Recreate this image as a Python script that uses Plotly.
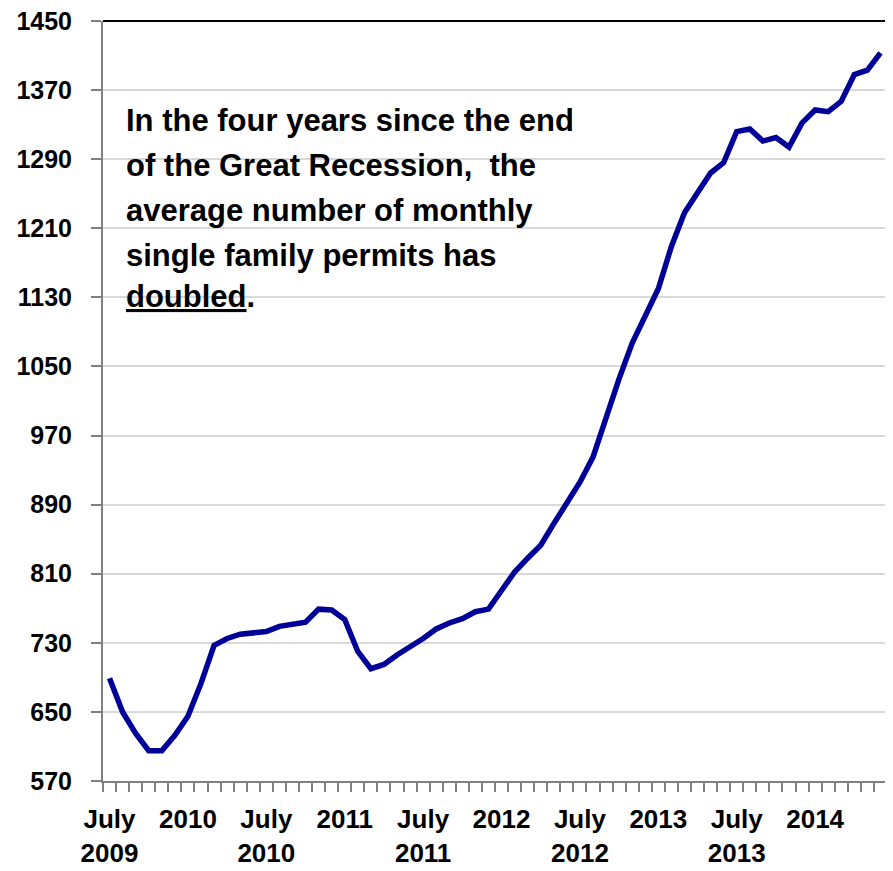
import plotly.graph_objects as go
import pandas as pd

months = [d.strftime("%b %Y") for d in pd.date_range("2009-07-01", periods=60, freq="MS")]

permits = [689, 650, 625, 605, 605, 623, 645, 683, 727, 735,
           740, 742, 743, 749, 751, 754, 769, 768, 757, 720,
           700, 705, 716, 725, 735, 746, 753, 758, 766, 769,
           790, 812, 828, 843, 868, 893, 916, 945, 992, 1036,
           1077, 1110, 1140, 1189, 1228, 1251, 1274, 1286, 1322, 1325,
           1311, 1315, 1304, 1332, 1347, 1345, 1357, 1388, 1393, 1413]

label_months = ["Jul 2009", "Jan 2010", "Jul 2010", "Jan 2011", "Jul 2011",
                "Jan 2012", "Jul 2012", "Jan 2013", "Jul 2013", "Jan 2014"]
label_texts = ["July<br>2009", "2010", "July<br>2010", "2011", "July<br>2011",
               "2012", "July<br>2012", "2013", "July<br>2013", "2014"]

y_ticks = [570, 650, 730, 810, 890, 970, 1050, 1130, 1210, 1290, 1370, 1450]

note_lines = ["In the four years since the end",
              "of the Great Recession,  the",
              "average number of monthly",
              "single family permits has",
              "<span style='text-decoration:underline'>doubled</span>."]
note_y = [0.869, 0.810, 0.751, 0.692, 0.637]

FONT = "Liberation Sans, Arial, sans-serif"

fig = go.Figure()
fig.add_trace(go.Scatter(x=months, y=permits, mode="lines",
                         line=dict(color="#000099", width=5.5),
                         hoverinfo="skip", showlegend=False))
fig.add_trace(go.Scatter(x=months, y=permits, mode="lines", xaxis="x2",
                         line=dict(color="rgba(0,0,0,0)", width=0),
                         hoverinfo="skip", showlegend=False))

fig.update_layout(
    width=885, height=863,
    margin=dict(l=95, r=6, t=13, b=90, autoexpand=False),
    paper_bgcolor="white", plot_bgcolor="white",
    font=dict(family=FONT, size=26, color="black", weight="bold"),
    xaxis=dict(type="category", categoryorder="array", categoryarray=months,
               range=[-0.5, 59.5], tickmode="linear", tick0=0, dtick=1,
               tickson="boundaries", ticks="outside", ticklen=9, tickwidth=2,
               tickcolor="#808080", showticklabels=False, showgrid=False,
               showline=True, linecolor="#808080", linewidth=2, zeroline=False,
               automargin=False),
    xaxis2=dict(type="category", categoryorder="array", categoryarray=months,
                overlaying="x", matches="x", side="bottom",
                range=[-0.5, 59.5], tickmode="array", tickvals=label_months,
                ticktext=label_texts, ticks="", showgrid=False, showline=False,
                zeroline=False, ticklabelstandoff=20, automargin=False,
                ticklabeloverflow="allow",
                tickfont=dict(family=FONT, size=26, color="black", weight="bold")),
    yaxis=dict(range=[570, 1450], tickmode="array", tickvals=y_ticks,
               ticktext=[str(v) for v in y_ticks],
               ticks="outside", ticklen=10, tickwidth=2, tickcolor="#808080",
               showline=True, linecolor="#808080", linewidth=2,
               showgrid=True, gridcolor="#d9d9d9", gridwidth=2, zeroline=False,
               ticklabelstandoff=14, automargin=False,
               ticklabeloverflow="allow",
               tickfont=dict(family=FONT, size=25, color="black", weight="bold")),
    shapes=[
        dict(type="line", xref="paper", yref="paper", x0=0, x1=1, y0=1, y1=1,
             line=dict(color="black", width=2)),
        dict(type="line", xref="paper", yref="paper", x0=1, x1=1, y0=0, y1=1,
             line=dict(color="black", width=2)),
    ],
    annotations=[
        dict(text=t, xref="paper", yref="paper", x=0.028, y=yy,
             xanchor="left", yanchor="middle", align="left", showarrow=False,
             borderpad=0,
             font=dict(family=FONT, size=31, color="black", weight="bold"))
        for t, yy in zip(note_lines, note_y)
    ],
)

fig.write_html("out.html")
